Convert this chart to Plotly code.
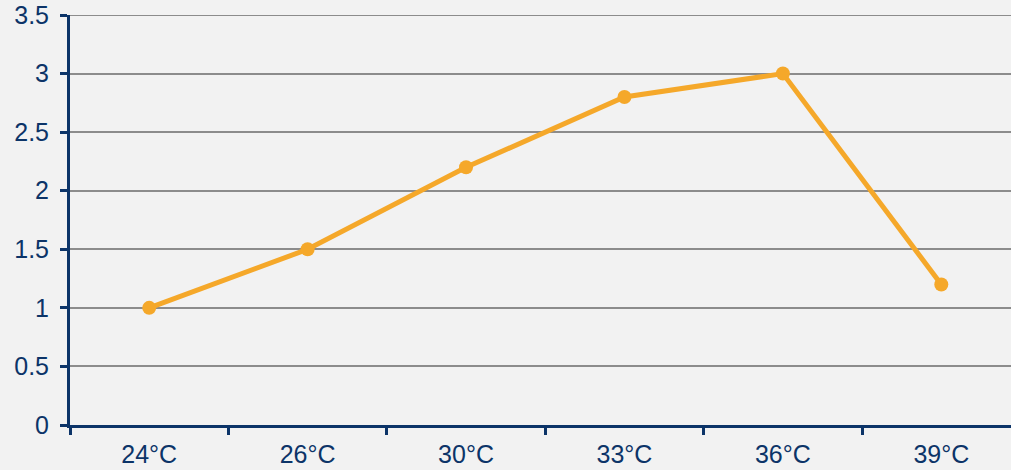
import plotly.graph_objects as go

# Temperature categories and measured values
categories = ["24°C", "26°C", "30°C", "33°C", "36°C", "39°C"]
values = [1.0, 1.5, 2.2, 2.8, 3.0, 1.2]

y_ticks = [0, 0.5, 1, 1.5, 2, 2.5, 3, 3.5]
y_tick_text = ["0", "0.5", "1", "1.5", "2", "2.5", "3", "3.5"]
y_max = 3.5

navy = "#0c3468"
orange = "#f5a82a"
grid = "#8c8c8c"

fig = go.Figure(
    go.Scatter(
        x=categories,
        y=values,
        mode="lines+markers",
        line=dict(color=orange, width=5),
        marker=dict(color=orange, size=14),
        cliponaxis=False,
        showlegend=False,
    )
)

# top gridline sits on the edge of the range, so draw it explicitly
fig.add_shape(
    type="line",
    xref="paper",
    yref="y",
    x0=0,
    x1=1,
    y0=y_max,
    y1=y_max,
    line=dict(color=grid, width=2),
    layer="below",
)

fig.update_layout(
    width=1011,
    height=470,
    margin=dict(l=70, r=0, t=15, b=45),
    paper_bgcolor="#f2f2f2",
    plot_bgcolor="#f2f2f2",
    font=dict(family="Liberation Sans, Arial, sans-serif", size=25, color=navy),
)

fig.update_xaxes(
    type="category",
    range=[-0.5, 5.44],
    tickson="boundaries",
    ticks="outside",
    ticklen=7,
    tickwidth=2.5,
    tickcolor=navy,
    showline=True,
    linecolor=navy,
    linewidth=3,
    showgrid=False,
    ticklabelstandoff=5,
    tickfont=dict(size=25, color=navy),
)

fig.update_yaxes(
    range=[0, y_max],
    tickvals=y_ticks,
    ticktext=y_tick_text,
    ticks="outside",
    ticklen=7,
    tickwidth=2.5,
    tickcolor=navy,
    showline=True,
    linecolor=navy,
    linewidth=3,
    showgrid=True,
    gridcolor=grid,
    gridwidth=2,
    zeroline=False,
    ticklabelstandoff=6,
    tickfont=dict(size=25, color=navy),
)

fig.write_html("out.html")
